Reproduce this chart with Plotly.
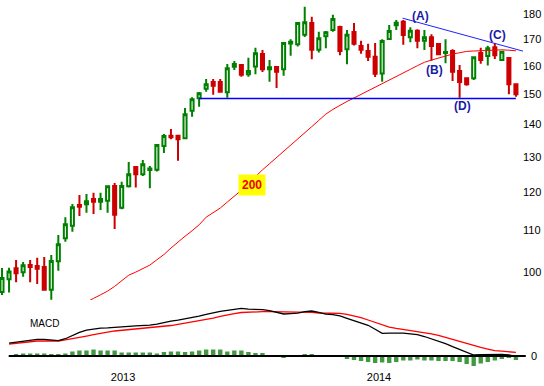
import math
import plotly.graph_objects as go

# ---------------- data ----------------
opens = [95.55, 98.36, 100.85, 99.93, 101.61, 101.38, 101.15, 96.06, 102.48, 107.99,
         111.13, 116.50, 116.68, 118.10, 117.38, 117.64, 121.65, 115.79, 121.57, 127.03,
         124.94, 126.17, 126.26, 133.26, 136.42, 136.42, 135.62, 144.41, 148.56, 151.84,
         154.17, 154.17, 150.60, 159.64, 160.26, 156.90, 159.70, 164.32, 158.69, 159.53,
         158.69, 168.34, 168.03, 171.71, 176.36, 165.94, 171.12, 173.56, 174.75, 166.10,
         172.76, 167.36, 165.45, 163.31, 157.21, 170.04, 175.43, 176.88, 170.76, 173.28,
         169.38, 170.72, 168.10, 164.70, 165.45, 158.08, 155.48, 155.48, 164.70, 163.60,
         166.85, 162.10, 162.84, 153.37]
highs = [100.92, 100.99, 102.78, 102.32, 102.78, 103.31, 103.48, 103.95, 108.80, 113.28,
         116.76, 119.18, 119.45, 119.82, 119.82, 121.57, 122.48, 122.85, 128.49, 127.03,
         129.07, 127.32, 133.56, 136.95, 138.50, 136.64, 145.30, 148.90, 150.70, 155.23,
         155.23, 155.23, 160.62, 161.73, 160.62, 162.95, 166.71, 165.83, 162.10, 159.53,
         168.50, 169.90, 176.36, 183.04, 178.91, 172.89, 173.16, 179.70, 175.27, 173.56,
         176.36, 169.38, 168.22, 168.45, 169.91, 175.55, 177.56, 177.56, 174.62, 173.84,
         173.56, 171.89, 168.45, 169.91, 166.10, 160.26, 155.48, 163.10, 166.71, 167.46,
         168.45, 165.20, 163.20, 153.72]
lows = [94.90, 95.45, 97.69, 98.94, 97.69, 97.31, 96.06, 93.90, 100.30, 107.16,
        109.62, 113.62, 114.47, 114.13, 115.18, 114.47, 110.30, 115.37, 121.20, 121.20,
        124.46, 121.03, 125.70, 131.15, 135.30, 128.87, 135.62, 142.45, 145.74, 150.81,
        149.77, 150.70, 148.75, 158.44, 156.06, 156.06, 156.90, 157.76, 154.24, 152.10,
        156.40, 163.65, 167.12, 170.83, 162.36, 164.84, 166.48, 172.89, 163.84, 160.50,
        167.54, 164.45, 161.73, 155.95, 154.30, 170.04, 173.56, 167.84, 168.75, 166.48,
        165.83, 161.84, 163.95, 160.86, 154.53, 148.75, 152.87, 154.88, 160.75, 160.08,
        162.46, 162.10, 149.90, 149.10]
closes = [98.65, 100.10, 99.70, 101.54, 101.15, 100.76, 96.06, 102.55, 106.52, 111.49,
          115.89, 116.05, 117.48, 117.38, 118.10, 121.57, 113.95, 121.65, 124.96, 124.94,
          127.80, 126.57, 133.56, 136.33, 135.93, 135.30, 143.23, 148.22, 150.27, 153.37,
          152.87, 150.81, 159.06, 160.62, 156.76, 158.08, 164.59, 158.69, 159.42, 157.85,
          168.50, 168.96, 176.36, 176.64, 165.94, 170.31, 172.69, 177.96, 165.45, 171.71,
          168.22, 165.94, 163.31, 157.10, 169.26, 173.16, 176.48, 171.59, 173.28, 169.38,
          170.72, 167.35, 164.20, 165.10, 157.85, 154.20, 153.37, 163.10, 162.10, 166.48,
          163.84, 165.20, 153.37, 149.90]

# 200-day moving average, from bar 11 onwards
ma_start = 11
ma200 = [92.60, 93.30, 94.17, 94.94, 95.75, 96.78, 98.00, 99.28, 99.98, 100.69, 101.59,
         102.83, 104.07, 105.61, 107.14, 108.50, 109.86, 111.36, 113.31, 114.60, 115.68,
         117.28, 118.80, 120.47, 122.41, 124.37, 126.20, 127.99, 129.77, 131.51, 133.32,
         135.16, 137.17, 139.26, 141.26, 143.30, 144.84, 146.27, 147.48, 148.66, 149.87,
         151.08, 152.30, 153.50, 154.76, 155.96, 157.12, 158.68, 160.00, 161.24, 162.06,
         162.88, 163.73, 164.30, 164.80, 165.30, 165.45, 165.60, 165.75, 165.83, 165.90,
         165.75, 165.53]

# MACD (from bar 1), signal (from bar 1), histogram (from bar 2)
macd = [2.13, 2.30, 2.48, 2.68, 2.78, 2.77, 2.65, 2.55, 2.88, 3.42,
        3.93, 4.32, 4.53, 4.63, 4.68, 4.73, 4.83, 4.93, 5.02, 5.08,
        5.13, 5.32, 5.60, 5.82, 5.98, 6.18, 6.42, 6.63, 6.93, 7.23,
        7.45, 7.62, 7.78, 7.93, 7.82, 7.78, 7.73, 7.57, 7.28, 7.00,
        7.07, 7.15, 7.38, 7.50, 7.27, 6.97, 6.88, 6.67, 6.27, 5.90,
        5.52, 5.12, 4.45, 3.78, 3.82, 3.87, 3.82, 3.68, 3.55, 3.25,
        2.87, 2.47, 2.07, 1.57, 1.07, 0.55, 0.17, 0.22, 0.27, 0.28,
        0.28, 0.20, -0.12]
signal = [1.97, 2.12, 2.28, 2.43, 2.50, 2.50, 2.50, 2.50, 2.67, 2.85,
          3.08, 3.32, 3.55, 3.80, 3.98, 4.17, 4.27, 4.38, 4.48, 4.60,
          4.72, 4.83, 4.95, 5.08, 5.28, 5.48, 5.65, 5.82, 6.07, 6.32,
          6.60, 6.88, 7.08, 7.25, 7.32, 7.37, 7.38, 7.38, 7.38, 7.33,
          7.28, 7.28, 7.28, 7.27, 7.17, 7.12, 7.12, 7.12, 6.92, 6.68,
          6.40, 6.00, 5.60, 5.17, 4.82, 4.60, 4.43, 4.27, 4.10, 3.90,
          3.67, 3.42, 3.07, 2.70, 2.37, 2.00, 1.70, 1.42, 1.15, 0.90,
          0.80, 0.75, 0.60]
hist = [0.25, 0.42, 0.42, 0.42, 0.42, 0.17, 0.17, 0.42, 0.75, 0.92,
        0.92, 1.08, 0.92, 0.92, 0.92, 0.58, 0.58, 0.58, 0.58, 0.58,
        0.42, 0.67, 0.75, 0.75, 0.67, 0.75, 0.92, 1.08, 1.08, 1.08,
        0.75, 0.92, 0.92, 0.67, 0.50, 0.50, 0.00, -0.12, -0.33, -0.08,
        -0.08, 0.17, 0.17, -0.08, -0.08, -0.08, -0.08, -0.50, -0.67, -0.83,
        -1.00, -1.17, -1.08, -1.17, -1.00, -0.75, -0.75, -0.58, -0.75, -0.75,
        -0.83, -0.83, -0.83, -1.00, -1.33, -1.67, -1.25, -1.00, -0.75, -0.50,
        -0.33, -0.67]

support_x = [28, 73]
support_level = 148.5
trend_x = [56.9, 74.0]
trend_y = [178.3, 165.4]

year_ticks = [17.19, 53.55]
year_labels = ["2013", "2014"]
price_ticks = [100, 110, 120, 130, 140, 150, 160, 170, 180]

# point labels: (text, bar position, price)
point_labels = [("(A)", 59.4, 179.3), ("(B)", 61.4, 158.4),
                ("(C)", 70.4, 171.7), ("(D)", 65.4, 146.1)]
ma_label = ("200", 35.47, 121.9)

# ---------------- figure ----------------
n = len(opens)
bars = list(range(n))
FONT = "Liberation Sans, Arial, sans-serif"

fig = go.Figure()

fig.add_trace(go.Candlestick(
    x=bars, open=opens, high=highs, low=lows, close=closes,
    increasing=dict(line=dict(color="#008000", width=2), fillcolor="#ffffff"),
    decreasing=dict(line=dict(color="#cc0000", width=2), fillcolor="#cc0000"),
    whiskerwidth=0, xaxis="x", yaxis="y", showlegend=False, hoverinfo="skip"))

fig.add_trace(go.Scatter(
    x=list(range(ma_start, ma_start + len(ma200))), y=ma200, mode="lines",
    line=dict(color="#ff0000", width=1), xaxis="x", yaxis="y", showlegend=False))

fig.add_trace(go.Scatter(
    x=support_x, y=[support_level, support_level], mode="lines",
    line=dict(color="#0000ff", width=1.5), xaxis="x", yaxis="y", showlegend=False))

fig.add_trace(go.Scatter(
    x=trend_x, y=trend_y, mode="lines",
    line=dict(color="#2020ff", width=1), xaxis="x", yaxis="y", showlegend=False))

# MACD panel
fig.add_trace(go.Bar(
    x=list(range(2, 2 + len(hist))), y=hist, width=0.62,
    marker=dict(color="#3f9a3f", line=dict(width=0)),
    xaxis="x", yaxis="y2", showlegend=False))

fig.add_shape(type="line", xref="x", yref="y2", x0=0.95, x1=74.4, y0=0, y1=0,
              line=dict(color="#000000", width=2))

fig.add_trace(go.Scatter(
    x=list(range(1, 1 + len(signal))), y=signal, mode="lines",
    line=dict(color="#ff0000", width=1.3), xaxis="x", yaxis="y2", showlegend=False))
fig.add_trace(go.Scatter(
    x=list(range(1, 1 + len(macd))), y=macd, mode="lines",
    line=dict(color="#000000", width=1.3), xaxis="x", yaxis="y2", showlegend=False))

# annotations (log axis: annotation y is given as log10 of the price)
for txt, xv, pv in point_labels:
    fig.add_annotation(text="<b>%s</b>" % txt, x=xv, y=math.log10(pv),
                       xref="x", yref="y", showarrow=False,
                       font=dict(family=FONT, size=12, color="#1a1aa8"))
fig.add_annotation(text="<b>%s</b>" % ma_label[0], x=ma_label[1],
                   y=math.log10(ma_label[2]), xref="x", yref="y",
                   showarrow=False, bgcolor="#ffff00", borderpad=3,
                   font=dict(family=FONT, size=12, color="#ee0000"))
fig.add_annotation(text="MACD", x=6.1, y=5.42, xref="x", yref="y2", showarrow=False,
                   font=dict(family=FONT, size=10, color="#000000"))

d = 69 / 369
fig.update_layout(
    width=544, height=386,
    margin=dict(l=0, r=18, t=0, b=17, autoexpand=False),
    paper_bgcolor="#ffffff", plot_bgcolor="#ffffff",
    font=dict(family=FONT, size=11, color="#000000"),
    boxgap=0.38, bargap=0.4,
    xaxis=dict(range=[-0.284, 74.43], anchor="y2", showgrid=False, zeroline=False,
               showline=False, ticks="", tickvals=year_ticks, ticktext=year_labels,
               rangeslider=dict(visible=False), tickfont=dict(size=11)),
    yaxis=dict(type="log", range=[1.97233, 2.26912], domain=[d, 1], side="right",
               anchor="x", showgrid=False, zeroline=False, showline=False, ticks="",
               tickvals=price_ticks, ticktext=[str(v) for v in price_ticks],
               ticklabelstandoff=-4, tickfont=dict(size=11)),
    yaxis2=dict(range=[-13 / 6, 56 / 6], domain=[0, d], side="right", anchor="x",
                showgrid=False, zeroline=False, showline=False, ticks="",
                tickvals=[0], ticktext=["0"], ticklabelstandoff=4,
                tickfont=dict(size=11)),
)

fig.write_html("out.html", config={"displayModeBar": False},
               post_script="document.body.style.margin='0';document.body.style.padding='0';")
